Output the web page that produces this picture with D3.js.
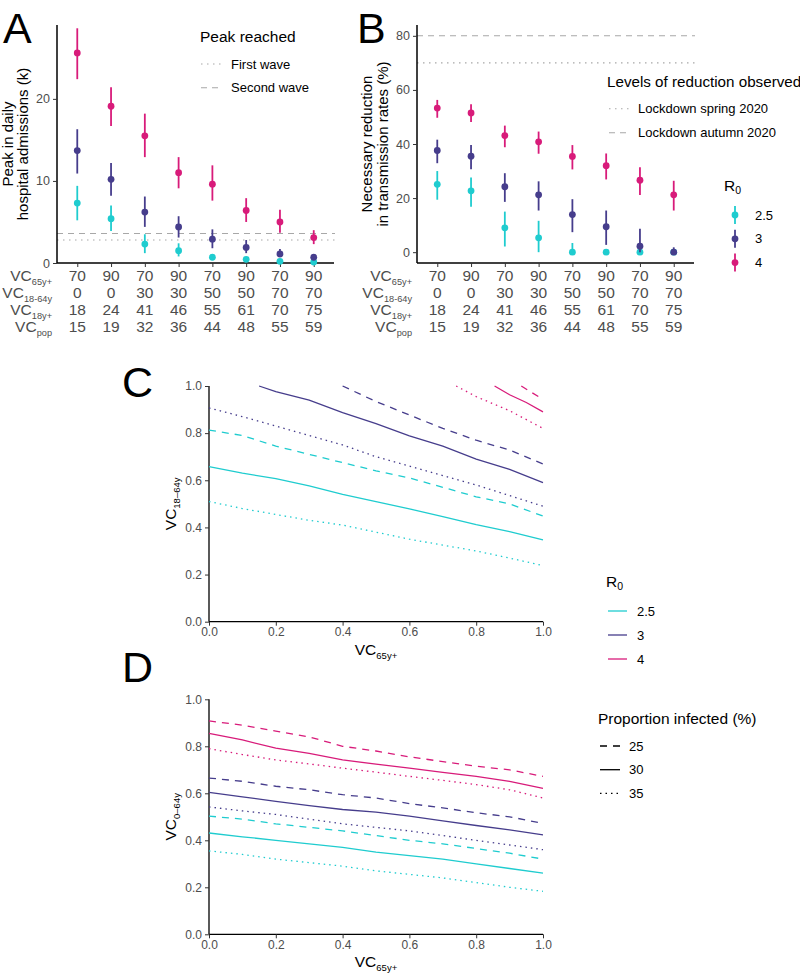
<!DOCTYPE html>
<html><head><meta charset="utf-8">
<script src="https://cdn.jsdelivr.net/npm/d3@7"></script>
<style>
body{margin:0;background:#fff;}
svg{display:block;font-family:"Liberation Sans",Arial,Helvetica,sans-serif;}
</style></head>
<body>
<svg id="chart" width="800" height="974"></svg>
<script>
// ---------- DATA ----------
const catIndex = [0,1,2,3,4,5,6,7];
const vc65 = [70,90,70,90,70,90,70,90];
const vc1864 = [0,0,30,30,50,50,70,70];
const vc18p = [18,24,41,46,55,61,70,75];
const vcpop = [15,19,32,36,44,48,55,59];
const r0Levels = ["2.5","3","4"];
const r0Colors = ["#1fcccf","#463d8c","#d81b7a"];

// Panel A: peak in daily hospital admissions (k)
const peak_r25_mid = [7.3,5.4,2.3,1.5,0.7,0.45,0.2,0.12];
const peak_r25_lo  = [5.2,3.9,1.2,0.8,0.4,0.3,0.1,0.05];
const peak_r25_hi  = [9.4,7.0,3.5,2.4,0.95,0.6,0.3,0.2];
const peak_r3_mid  = [13.7,10.2,6.2,4.4,2.9,1.9,1.1,0.7];
const peak_r3_lo   = [10.9,8.2,4.4,3.1,1.8,1.2,0.7,0.5];
const peak_r3_hi   = [16.3,12.2,8.1,5.7,4.1,2.8,1.7,0.9];
const peak_r4_mid  = [25.6,19.1,15.5,11.0,9.6,6.4,5.0,3.1];
const peak_r4_lo   = [22.4,16.7,12.9,9.1,7.6,5.0,3.7,2.3];
const peak_r4_hi   = [28.6,21.4,18.2,12.9,11.9,7.9,6.5,4.0];
const peakWaves = ["First wave","Second wave"];
const peakWaveValues = [2.8,3.6];

// Panel B: necessary reduction in transmission rates (%)
const red_r25_mid = [25.1,22.7,9.0,5.3,0,0,0,0];
const red_r25_lo  = [19.4,16.8,2.1,0,0,0,0,0];
const red_r25_hi  = [30.0,27.6,15.0,11.6,3.4,0,0.5,0];
const red_r3_mid  = [37.6,35.5,24.2,21.2,13.9,9.4,2.2,0];
const red_r3_lo   = [32.9,30.7,18.6,15.4,7.4,2.7,0,0];
const red_r3_hi   = [41.6,39.6,29.2,26.2,19.6,15.4,8.7,1.8];
const red_r4_mid  = [53.3,51.5,43.1,40.8,35.4,32.0,26.6,21.2];
const red_r4_lo   = [49.7,48.1,38.8,36.4,30.6,26.9,21.1,15.4];
const red_r4_hi   = [56.3,54.7,46.8,44.6,39.6,36.5,31.4,26.4];
const lockdowns = ["Lockdown spring 2020","Lockdown autumn 2020"];
const lockdownValues = [70,80];

// Panel C: VC18-64y thresholds vs VC65y+
const gridX = [0,0.1,0.2,0.3,0.4,0.5,0.6,0.7,0.8,0.9,1.0];
const c_r25_25 = [0.813,0.79,0.745,0.71,0.675,0.64,0.61,0.57,0.53,0.50,0.448];
const c_r25_30 = [0.658,0.63,0.607,0.576,0.54,0.509,0.479,0.446,0.412,0.382,0.347];
const c_r25_35 = [0.51,0.48,0.455,0.43,0.41,0.38,0.35,0.325,0.30,0.27,0.238];
const c_r3_35  = [0.907,0.87,0.83,0.79,0.75,0.70,0.66,0.62,0.58,0.535,0.49];
const c_r3_30_x = [0.15,0.2,0.3,0.4,0.5,0.6,0.7,0.8,0.9,1.0];
const c_r3_30   = [1.0,0.976,0.94,0.887,0.84,0.788,0.745,0.69,0.646,0.59];
const c_r3_25_x = [0.40,0.5,0.6,0.7,0.8,0.9,1.0];
const c_r3_25   = [1.0,0.934,0.877,0.82,0.77,0.728,0.669];
const c_r4_35_x = [0.74,0.8,0.9,1.0];
const c_r4_35   = [1.0,0.955,0.895,0.82];
const c_r4_30_x = [0.855,0.9,0.95,1.0];
const c_r4_30   = [1.0,0.963,0.93,0.89];
const c_r4_25_x = [0.935,1.0];
const c_r4_25   = [1.0,0.943];

// Panel D: VC0-64y thresholds vs VC65y+
const d_r25_25 = [0.503,0.49,0.47,0.455,0.44,0.42,0.40,0.385,0.365,0.345,0.32];
const d_r25_30 = [0.431,0.415,0.40,0.385,0.37,0.35,0.335,0.32,0.30,0.28,0.26];
const d_r25_35 = [0.355,0.34,0.32,0.305,0.29,0.27,0.255,0.24,0.22,0.20,0.183];
const d_r3_25  = [0.665,0.651,0.63,0.615,0.594,0.58,0.556,0.538,0.517,0.50,0.472];
const d_r3_30  = [0.604,0.585,0.566,0.548,0.531,0.52,0.503,0.483,0.463,0.444,0.423];
const d_r3_35  = [0.542,0.525,0.51,0.49,0.47,0.455,0.44,0.42,0.40,0.38,0.36];
const d_r4_25  = [0.908,0.89,0.865,0.84,0.80,0.78,0.755,0.735,0.715,0.70,0.672];
const d_r4_30  = [0.855,0.827,0.792,0.77,0.742,0.724,0.707,0.689,0.672,0.651,0.621];
const d_r4_35  = [0.79,0.765,0.742,0.725,0.707,0.69,0.672,0.655,0.637,0.615,0.58];

const propInfected = ["25","30","35"];
const propDash = ["7,6", null, "1.5,4"];

// ---------- DRAW ----------
const svg = d3.select("#chart");
const GREY = "#4d4d4d";

function bigLetter(t,x,y){
  svg.append("text").attr("x",x).attr("y",y).attr("font-size",43).attr("fill","#000").text(t);
}
function subText(g,x,y,main,sub,opt){
  opt = opt||{};
  const t = g.append("text").attr("x",x).attr("y",y)
    .attr("font-size",opt.size||15).attr("fill",opt.fill||"#000")
    .attr("text-anchor",opt.anchor||"start");
  if(opt.rotate) t.attr("transform",`rotate(-90,${x},${y})`);
  t.append("tspan").text(main);
  t.append("tspan").attr("font-size",opt.subSize||10).attr("dy",opt.dy||4).text(sub);
  return t;
}

function pointPanel(cfg){
  const g = svg.append("g");
  const x = d3.scalePoint().domain(catIndex).range([cfg.x0,cfg.x1]).padding(0.6);
  const y = d3.scaleLinear().domain(cfg.ydom).range([cfg.y1,cfg.y0]);
  cfg.refValues.forEach((v,i)=>{
    g.append("line").attr("x1",cfg.x0).attr("x2",cfg.x1+1).attr("y1",y(v)).attr("y2",y(v))
      .attr("stroke","#a8a8a8").attr("stroke-width",1.1)
      .attr("stroke-dasharray",cfg.refDash[i]);
  });
  const ya = g.append("g").attr("transform",`translate(${cfg.x0},0)`)
    .call(d3.axisLeft(y).tickValues(cfg.yticks).tickSize(4).tickPadding(3));
  const xa = g.append("g").attr("transform",`translate(0,${cfg.y1})`)
    .call(d3.axisBottom(x).tickSize(4).tickFormat(""));
  [ya,xa].forEach(a=>{
    a.select(".domain").attr("stroke","#000").attr("stroke-width",1.5);
    a.selectAll(".tick line").attr("stroke","#333").attr("stroke-width",1);
    a.selectAll("text").attr("font-size",12.5).attr("fill",GREY).attr("font-family","inherit");
  });
  ya.select(".domain").attr("d",`M0,${cfg.y0}V${cfg.y1}`);
  xa.select(".domain").attr("d",`M${cfg.x0},0H${cfg.x1}`);
  cfg.series.forEach((s,si)=>{
    const col = r0Colors[si];
    catIndex.forEach(i=>{
      g.append("line").attr("x1",x(i)).attr("x2",x(i))
        .attr("y1",y(s.lo[i])).attr("y2",y(s.hi[i]))
        .attr("stroke",col).attr("stroke-width",1.8);
      g.append("circle").attr("cx",x(i)).attr("cy",y(s.mid[i])).attr("r",3.4).attr("fill",col);
    });
  });
  const rows = [["65y+",vc65],["18-64y",vc1864],["18y+",vc18p],["pop",vcpop]];
  rows.forEach((r,ri)=>{
    const by = cfg.y1 + 18 + ri*17;
    subText(g,cfg.x0-5,by,"VC",r[0],{anchor:"end",fill:GREY,size:15.5,subSize:9.2,dy:4});
    catIndex.forEach(i=>{
      g.append("text").attr("x",x(i)).attr("y",by).attr("text-anchor","middle")
        .attr("font-size",15.5).attr("fill",GREY).text(r[1][i]);
    });
  });
  cfg.ytitle.forEach((t,i)=>{
    const tx = cfg.ytitleX[i], ty=(cfg.y0+cfg.y1)/2;
    g.append("text").attr("x",tx).attr("y",ty).attr("text-anchor","middle")
      .attr("transform",`rotate(-90,${tx},${ty})`).attr("font-size",15).attr("fill","#000").text(t);
  });
  return {x,y};
}

pointPanel({
  x0:57,x1:334,y0:25,y1:263,ydom:[0,29],yticks:[0,10,20],
  refValues:peakWaveValues,refDash:["1.5,4.5","6,5"],
  series:[{mid:peak_r25_mid,lo:peak_r25_lo,hi:peak_r25_hi},
          {mid:peak_r3_mid,lo:peak_r3_lo,hi:peak_r3_hi},
          {mid:peak_r4_mid,lo:peak_r4_lo,hi:peak_r4_hi}],
  ytitle:["Peak in daily","hospital admissions (k)"], ytitleX:[12.5,28]
});
pointPanel({
  x0:417,x1:694,y0:25,y1:263,ydom:[-4,84],yticks:[0,20,40,60,80],
  refValues:lockdownValues,refDash:["1.5,4.5","6,5"],
  series:[{mid:red_r25_mid,lo:red_r25_lo,hi:red_r25_hi},
          {mid:red_r3_mid,lo:red_r3_lo,hi:red_r3_hi},
          {mid:red_r4_mid,lo:red_r4_lo,hi:red_r4_hi}],
  ytitle:["Necessary reduction","in transmission rates (%)"], ytitleX:[372,388]
});

bigLetter("A",3,43);
bigLetter("B",357,43);
bigLetter("C",122,397);
bigLetter("D",122,682);

svg.append("text").attr("x",200).attr("y",42).attr("font-size",15.5).text("Peak reached");
peakWaves.forEach((w,i)=>{
  const cy = 64 + i*23.7;
  svg.append("line").attr("x1",201).attr("x2",222).attr("y1",cy).attr("y2",cy)
    .attr("stroke","#a8a8a8").attr("stroke-width",1.1).attr("stroke-dasharray",i===0?"1.5,4.5":"6,5");
  svg.append("text").attr("x",231).attr("y",cy+4.5).attr("font-size",13).text(w);
});
svg.append("text").attr("x",607).attr("y",87).attr("font-size",15.2).text("Levels of reduction observed");
lockdowns.forEach((w,i)=>{
  const cy = 108.7 + i*24;
  svg.append("line").attr("x1",609).attr("x2",629).attr("y1",cy).attr("y2",cy)
    .attr("stroke","#a8a8a8").attr("stroke-width",1.1).attr("stroke-dasharray",i===0?"1.5,4.5":"6,5");
  svg.append("text").attr("x",638).attr("y",cy+4.5).attr("font-size",13).text(w);
});
subText(svg,724,191,"R","0",{size:15.5,subSize:10.5,dy:3});
r0Levels.forEach((r,i)=>{
  const cy = 215 + i*23.8;
  svg.append("line").attr("x1",735).attr("x2",735).attr("y1",cy-9).attr("y2",cy+9)
    .attr("stroke",r0Colors[i]).attr("stroke-width",1.8);
  svg.append("circle").attr("cx",735).attr("cy",cy).attr("r",3.4).attr("fill",r0Colors[i]);
  svg.append("text").attr("x",755).attr("y",cy+4.5).attr("font-size",13).text(r);
});

function linePanel(cfg){
  const g = svg.append("g");
  const x = d3.scaleLinear().domain([0,1]).range([cfg.x0,cfg.x1]);
  const y = d3.scaleLinear().domain([0,1]).range([cfg.y1,cfg.y0]);
  const ticks=[0,0.2,0.4,0.6,0.8,1.0];
  const ya = g.append("g").attr("transform",`translate(${cfg.x0},0)`)
    .call(d3.axisLeft(y).tickValues(ticks).tickFormat(d3.format(".1f")).tickSize(4).tickPadding(3));
  const xa = g.append("g").attr("transform",`translate(0,${cfg.y1})`)
    .call(d3.axisBottom(x).tickValues(ticks).tickFormat(d3.format(".1f")).tickSize(4).tickPadding(2));
  [ya,xa].forEach(a=>{
    a.select(".domain").attr("stroke","#000").attr("stroke-width",1.3);
    a.selectAll(".tick line").attr("stroke","#333");
    a.selectAll("text").attr("font-size",12).attr("fill",GREY).attr("font-family","inherit");
  });
  ya.select(".domain").attr("d",`M0,${cfg.y0}V${cfg.y1}`);
  xa.select(".domain").attr("d",`M${cfg.x0},0H${cfg.x1}`);
  const line = d3.line().x(d=>x(d[0])).y(d=>y(d[1]));
  cfg.series.forEach(s=>{
    const pts = s.xs.map((xv,i)=>[xv,s.ys[i]]);
    g.append("path").attr("d",line(pts)).attr("fill","none")
      .attr("stroke",r0Colors[s.r]).attr("stroke-width",1.3)
      .attr("stroke-dasharray",propDash[s.p]);
  });
  subText(g,(cfg.x0+cfg.x1)/2,cfg.y1+33,"VC","65y+",{anchor:"middle",size:15.5,subSize:9.5,dy:4});
  subText(g,176,(cfg.y0+cfg.y1)/2,"VC",cfg.ysub,{anchor:"middle",size:15.5,subSize:9.5,dy:4,rotate:true});
}

linePanel({x0:209,x1:543,y0:386,y1:621.7,ysub:"18–64y",series:[
  {r:0,p:0,xs:gridX,ys:c_r25_25},{r:0,p:1,xs:gridX,ys:c_r25_30},{r:0,p:2,xs:gridX,ys:c_r25_35},
  {r:1,p:0,xs:c_r3_25_x,ys:c_r3_25},{r:1,p:1,xs:c_r3_30_x,ys:c_r3_30},{r:1,p:2,xs:gridX,ys:c_r3_35},
  {r:2,p:0,xs:c_r4_25_x,ys:c_r4_25},{r:2,p:1,xs:c_r4_30_x,ys:c_r4_30},{r:2,p:2,xs:c_r4_35_x,ys:c_r4_35}
]});
linePanel({x0:209,x1:543,y0:699.3,y1:934.3,ysub:"0–64y",series:[
  {r:0,p:0,xs:gridX,ys:d_r25_25},{r:0,p:1,xs:gridX,ys:d_r25_30},{r:0,p:2,xs:gridX,ys:d_r25_35},
  {r:1,p:0,xs:gridX,ys:d_r3_25},{r:1,p:1,xs:gridX,ys:d_r3_30},{r:1,p:2,xs:gridX,ys:d_r3_35},
  {r:2,p:0,xs:gridX,ys:d_r4_25},{r:2,p:1,xs:gridX,ys:d_r4_30},{r:2,p:2,xs:gridX,ys:d_r4_35}
]});

subText(svg,606,587,"R","0",{size:15.5,subSize:10.5,dy:3});
r0Levels.forEach((r,i)=>{
  const cy = 611 + i*24;
  svg.append("line").attr("x1",608).attr("x2",627).attr("y1",cy).attr("y2",cy)
    .attr("stroke",r0Colors[i]).attr("stroke-width",1.3);
  svg.append("text").attr("x",637).attr("y",cy+4.5).attr("font-size",13).text(r);
});
svg.append("text").attr("x",598).attr("y",724).attr("font-size",15.5).text("Proportion infected (%)");
propInfected.forEach((p,i)=>{
  const cy = 746 + i*23.7;
  svg.append("line").attr("x1",600).attr("x2",620).attr("y1",cy).attr("y2",cy)
    .attr("stroke","#000").attr("stroke-width",1.3).attr("stroke-dasharray",propDash[i]);
  svg.append("text").attr("x",629).attr("y",cy+4.5).attr("font-size",13).text(p);
});
</script>
</body></html>
